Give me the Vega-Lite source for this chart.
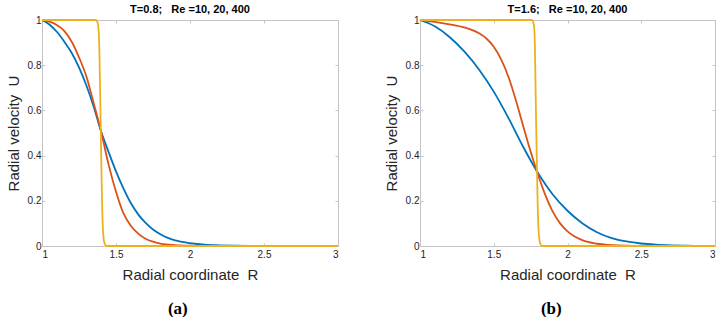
{
  "$schema": "https://vega.github.io/schema/vega-lite/v6.json",
  "background": "white",
  "padding": {"left": 6, "top": 4, "right": 0, "bottom": 0},
  "spacing": 42,
  "datasets": {
    "a": [
      {"Re": "10", "R": 1.0, "U": 1.0}, {"Re": "10", "R": 1.05, "U": 0.98}, {"Re": "10", "R": 1.1, "U": 0.948},
      {"Re": "10", "R": 1.15, "U": 0.905}, {"Re": "10", "R": 1.2, "U": 0.855}, {"Re": "10", "R": 1.25, "U": 0.79},
      {"Re": "10", "R": 1.3, "U": 0.71}, {"Re": "10", "R": 1.35, "U": 0.615}, {"Re": "10", "R": 1.4, "U": 0.505},
      {"Re": "10", "R": 1.45, "U": 0.416}, {"Re": "10", "R": 1.5, "U": 0.33}, {"Re": "10", "R": 1.55, "U": 0.255},
      {"Re": "10", "R": 1.6, "U": 0.19}, {"Re": "10", "R": 1.65, "U": 0.14}, {"Re": "10", "R": 1.7, "U": 0.102},
      {"Re": "10", "R": 1.75, "U": 0.073}, {"Re": "10", "R": 1.8, "U": 0.052}, {"Re": "10", "R": 1.85, "U": 0.036},
      {"Re": "10", "R": 1.9, "U": 0.025}, {"Re": "10", "R": 2.0, "U": 0.013}, {"Re": "10", "R": 2.1, "U": 0.006},
      {"Re": "10", "R": 2.2, "U": 0.003}, {"Re": "10", "R": 2.3, "U": 0.001}, {"Re": "10", "R": 2.4, "U": 0.0},
      {"Re": "20", "R": 1.0, "U": 1.0}, {"Re": "20", "R": 1.05, "U": 0.993}, {"Re": "20", "R": 1.1, "U": 0.978},
      {"Re": "20", "R": 1.15, "U": 0.952}, {"Re": "20", "R": 1.2, "U": 0.905}, {"Re": "20", "R": 1.25, "U": 0.835},
      {"Re": "20", "R": 1.3, "U": 0.75}, {"Re": "20", "R": 1.35, "U": 0.63}, {"Re": "20", "R": 1.4, "U": 0.505},
      {"Re": "20", "R": 1.45, "U": 0.36}, {"Re": "20", "R": 1.5, "U": 0.24}, {"Re": "20", "R": 1.55, "U": 0.145},
      {"Re": "20", "R": 1.6, "U": 0.09}, {"Re": "20", "R": 1.65, "U": 0.055}, {"Re": "20", "R": 1.7, "U": 0.032},
      {"Re": "20", "R": 1.75, "U": 0.019}, {"Re": "20", "R": 1.8, "U": 0.011}, {"Re": "20", "R": 1.9, "U": 0.004},
      {"Re": "20", "R": 2.0, "U": 0.001}, {"Re": "20", "R": 2.1, "U": 0.0},
      {"Re": "400", "R": 1.0, "U": 1.0}, {"Re": "400", "R": 1.365, "U": 1.0}, {"Re": "400", "R": 1.375, "U": 0.99},
      {"Re": "400", "R": 1.382, "U": 0.96}, {"Re": "400", "R": 1.387, "U": 0.88}, {"Re": "400", "R": 1.392, "U": 0.72},
      {"Re": "400", "R": 1.397, "U": 0.52}, {"Re": "400", "R": 1.402, "U": 0.32}, {"Re": "400", "R": 1.407, "U": 0.16},
      {"Re": "400", "R": 1.412, "U": 0.07}, {"Re": "400", "R": 1.418, "U": 0.025}, {"Re": "400", "R": 1.426, "U": 0.006},
      {"Re": "400", "R": 1.436, "U": 0.0}, {"Re": "400", "R": 3.0, "U": 0.0}
    ],
    "b": [
      {"Re": "10", "R": 1.0, "U": 1.0}, {"Re": "10", "R": 1.1, "U": 0.972}, {"Re": "10", "R": 1.2, "U": 0.925},
      {"Re": "10", "R": 1.3, "U": 0.861}, {"Re": "10", "R": 1.4, "U": 0.781}, {"Re": "10", "R": 1.5, "U": 0.683},
      {"Re": "10", "R": 1.6, "U": 0.566}, {"Re": "10", "R": 1.7, "U": 0.438}, {"Re": "10", "R": 1.8, "U": 0.323},
      {"Re": "10", "R": 1.9, "U": 0.228}, {"Re": "10", "R": 2.0, "U": 0.156}, {"Re": "10", "R": 2.1, "U": 0.101},
      {"Re": "10", "R": 2.2, "U": 0.061}, {"Re": "10", "R": 2.3, "U": 0.035}, {"Re": "10", "R": 2.4, "U": 0.02},
      {"Re": "10", "R": 2.5, "U": 0.011}, {"Re": "10", "R": 2.6, "U": 0.006}, {"Re": "10", "R": 2.7, "U": 0.003},
      {"Re": "10", "R": 2.8, "U": 0.001}, {"Re": "10", "R": 2.9, "U": 0.0},
      {"Re": "20", "R": 1.0, "U": 1.0}, {"Re": "20", "R": 1.1, "U": 0.992}, {"Re": "20", "R": 1.2, "U": 0.981},
      {"Re": "20", "R": 1.3, "U": 0.967}, {"Re": "20", "R": 1.35, "U": 0.956}, {"Re": "20", "R": 1.4, "U": 0.941},
      {"Re": "20", "R": 1.45, "U": 0.918}, {"Re": "20", "R": 1.5, "U": 0.882}, {"Re": "20", "R": 1.55, "U": 0.826},
      {"Re": "20", "R": 1.6, "U": 0.748}, {"Re": "20", "R": 1.65, "U": 0.645}, {"Re": "20", "R": 1.7, "U": 0.53},
      {"Re": "20", "R": 1.75, "U": 0.418}, {"Re": "20", "R": 1.8, "U": 0.315}, {"Re": "20", "R": 1.85, "U": 0.225},
      {"Re": "20", "R": 1.9, "U": 0.152}, {"Re": "20", "R": 1.95, "U": 0.1}, {"Re": "20", "R": 2.0, "U": 0.065},
      {"Re": "20", "R": 2.1, "U": 0.026}, {"Re": "20", "R": 2.2, "U": 0.01}, {"Re": "20", "R": 2.3, "U": 0.004},
      {"Re": "20", "R": 2.4, "U": 0.001}, {"Re": "20", "R": 2.5, "U": 0.0},
      {"Re": "400", "R": 1.0, "U": 1.0}, {"Re": "400", "R": 1.758, "U": 1.0}, {"Re": "400", "R": 1.768, "U": 0.99},
      {"Re": "400", "R": 1.775, "U": 0.96}, {"Re": "400", "R": 1.779, "U": 0.88}, {"Re": "400", "R": 1.783, "U": 0.72},
      {"Re": "400", "R": 1.788, "U": 0.52}, {"Re": "400", "R": 1.793, "U": 0.34}, {"Re": "400", "R": 1.798, "U": 0.18},
      {"Re": "400", "R": 1.804, "U": 0.07}, {"Re": "400", "R": 1.81, "U": 0.025}, {"Re": "400", "R": 1.818, "U": 0.006},
      {"Re": "400", "R": 1.828, "U": 0.0}, {"Re": "400", "R": 3.0, "U": 0.0}
    ]
  },
  "hconcat": [
    {
      "title": {"text": "(a)", "orient": "bottom", "anchor": "middle", "font": "Liberation Serif", "fontSize": 17, "fontWeight": "bold", "color": "#000000", "offset": 19, "dx": 4},
      "vconcat": [
        {
          "title": {"text": "T=0.8;\u00a0\u00a0\u00a0Re =10, 20, 400", "font": "Liberation Sans", "fontSize": 11, "fontWeight": "bold", "color": "#000000", "offset": 2, "dy": 2},
          "width": 296,
          "height": 226,
          "data": {"name": "a"},
          "layer": [
            {
              "mark": {"type": "line", "strokeWidth": 1.8, "interpolate": "monotone"},
              "encoding": {
                "x": {"field": "R", "type": "quantitative", "scale": {"domain": [1, 3], "nice": false},
                      "axis": {"orient": "bottom", "title": "Radial coordinate\u00a0\u00a0R", "values": [1, 1.5, 2, 2.5, 3], "labelExpr": "'' + datum.value", "labelPadding": 6, "titlePadding": 8}},
                "y": {"field": "U", "type": "quantitative", "scale": {"domain": [0, 1], "nice": false},
                      "axis": {"orient": "left", "title": "Radial velocity\u00a0\u00a0U", "values": [0, 0.2, 0.4, 0.6, 0.8, 1], "labelExpr": "'' + datum.value"}},
                "color": {"field": "Re", "type": "nominal", "legend": null,
                          "scale": {"domain": ["10", "20", "400"], "range": ["#0072BD", "#D95319", "#EDB120"]}}
              }
            },
            {
              "mark": {"type": "line", "opacity": 0},
              "encoding": {
                "x": {"field": "R", "type": "quantitative", "scale": {"domain": [1, 3], "nice": false},
                      "axis": {"orient": "top", "title": null, "labels": false, "values": [1, 1.5, 2, 2.5, 3]}},
                "y": {"field": "U", "type": "quantitative", "scale": {"domain": [0, 1], "nice": false},
                      "axis": {"orient": "right", "title": null, "labels": false, "values": [0, 0.2, 0.4, 0.6, 0.8, 1]}}
              }
            }
          ],
          "resolve": {"axis": {"x": "independent", "y": "independent"}}
        }
      ]
    },
    {
      "title": {"text": "(b)", "orient": "bottom", "anchor": "middle", "font": "Liberation Serif", "fontSize": 17, "fontWeight": "bold", "color": "#000000", "offset": 19},
      "vconcat": [
        {
          "title": {"text": "T=1.6;\u00a0\u00a0\u00a0Re =10, 20, 400", "font": "Liberation Sans", "fontSize": 11, "fontWeight": "bold", "color": "#000000", "offset": 2, "dy": 2},
          "width": 295,
          "height": 226,
          "data": {"name": "b"},
          "layer": [
            {
              "mark": {"type": "line", "strokeWidth": 1.8, "interpolate": "monotone"},
              "encoding": {
                "x": {"field": "R", "type": "quantitative", "scale": {"domain": [1, 3], "nice": false},
                      "axis": {"orient": "bottom", "title": "Radial coordinate\u00a0\u00a0R", "values": [1, 1.5, 2, 2.5, 3], "labelExpr": "'' + datum.value", "labelPadding": 6, "titlePadding": 8}},
                "y": {"field": "U", "type": "quantitative", "scale": {"domain": [0, 1], "nice": false},
                      "axis": {"orient": "left", "title": "Radial velocity\u00a0\u00a0U", "values": [0, 0.2, 0.4, 0.6, 0.8, 1], "labelExpr": "'' + datum.value"}},
                "color": {"field": "Re", "type": "nominal", "legend": null,
                          "scale": {"domain": ["10", "20", "400"], "range": ["#0072BD", "#D95319", "#EDB120"]}}
              }
            },
            {
              "mark": {"type": "line", "opacity": 0},
              "encoding": {
                "x": {"field": "R", "type": "quantitative", "scale": {"domain": [1, 3], "nice": false},
                      "axis": {"orient": "top", "title": null, "labels": false, "values": [1, 1.5, 2, 2.5, 3]}},
                "y": {"field": "U", "type": "quantitative", "scale": {"domain": [0, 1], "nice": false},
                      "axis": {"orient": "right", "title": null, "labels": false, "values": [0, 0.2, 0.4, 0.6, 0.8, 1]}}
              }
            }
          ],
          "resolve": {"axis": {"x": "independent", "y": "independent"}}
        }
      ]
    }
  ],
  "config": {
    "view": {"stroke": null},
    "axis": {
      "grid": false,
      "domainColor": "#c4c4c4",
      "domainWidth": 1,
      "tickColor": "#c4c4c4",
      "tickSize": -3,
      "labelFont": "Liberation Sans",
      "labelFontSize": 10,
      "labelColor": "#262626",
      "labelPadding": 4,
      "titleFont": "Liberation Sans",
      "titleFontSize": 15,
      "titleFontWeight": "normal",
      "titleColor": "#262626",
      "titlePadding": 6
    }
  }
}
